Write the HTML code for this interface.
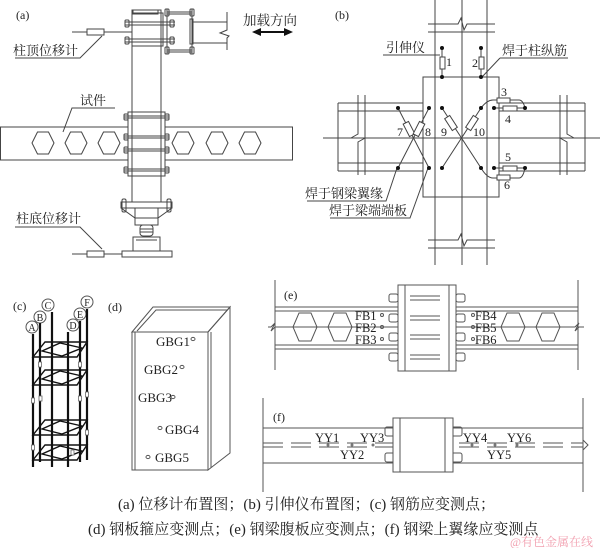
<!DOCTYPE html>
<html><head><meta charset="utf-8"><style>
html,body{margin:0;padding:0;background:#fff}
svg{display:block}
text{font-family:"Liberation Serif","Noto Serif CJK SC","Noto Sans CJK SC",serif;fill:#222}
.cj{font-family:"Liberation Serif","Noto Serif CJK SC","Noto Sans CJK SC",serif}
</style></head><body>
<svg width="600" height="548" viewBox="0 0 600 548" xmlns="http://www.w3.org/2000/svg">
<g fill="none" stroke="#444" stroke-width="1">
<rect x="0.5" y="127" width="292" height="33"/>
<g>
<polygon points="32,143 37.5,132 48.5,132 54,143 48.5,154 37.5,154"/>
<polygon points="65,143 70.5,132 81.5,132 87,143 81.5,154 70.5,154"/>
<polygon points="98,143 103.5,132 114.5,132 120,143 114.5,154 103.5,154"/>
<polygon points="172,143 177.5,132 188.5,132 194,143 188.5,154 177.5,154"/>
<polygon points="206,143 211.5,132 222.5,132 228,143 222.5,154 211.5,154"/>
<polygon points="239,143 244.5,132 255.5,132 261,143 255.5,154 244.5,154"/>
</g>
<rect x="132" y="10" width="29" height="192" fill="#fff"/>
<rect x="128" y="112" width="37" height="64" fill="#fff"/>
<line x1="132" y1="112" x2="132" y2="176"/><line x1="161" y1="112" x2="161" y2="176"/>
<g>
<path d="M124 116h45M124 118h45M124 136h45M124 138h45M124 149h45M124 151h45M124 169h45M124 171h45"/>
<rect x="124" y="114" width="4" height="6" rx="1"/><rect x="165" y="114" width="4" height="6" rx="1"/>
<rect x="124" y="134" width="4" height="6" rx="1"/><rect x="165" y="134" width="4" height="6" rx="1"/>
<rect x="124" y="147" width="4" height="6" rx="1"/><rect x="165" y="147" width="4" height="6" rx="1"/>
<rect x="124" y="167" width="4" height="6" rx="1"/><rect x="165" y="167" width="4" height="6" rx="1"/>
</g>
<rect x="133" y="10" width="25" height="4"/>
<rect x="132" y="13" width="31" height="33"/>
<path d="M125 22h50M125 25h50M125 39h50M125 42h50"/>
<rect x="125" y="20" width="4" height="7" rx="1"/><rect x="125" y="37" width="4" height="7" rx="1"/>
<rect x="170" y="20" width="4" height="7" rx="1"/><rect x="170" y="37" width="4" height="7" rx="1"/>
<path d="M167 12h25M167 14h25M167 50h25M167 52h25"/>
<rect x="165" y="9" width="4" height="7" rx="1"/><rect x="190" y="9" width="4" height="7" rx="1"/>
<rect x="165" y="47" width="4" height="7" rx="1"/><rect x="190" y="47" width="4" height="7" rx="1"/>
<line x1="167" y1="9" x2="167" y2="54"/><line x1="192" y1="9" x2="192" y2="54"/>
<rect x="190" y="19" width="3" height="25"/>
<path d="M193 22h34M193 43h34M227 12v18l-7 3 9 3-2 2v12"/>
<rect x="121" y="202" width="51" height="6"/>
<rect x="122" y="199" width="4" height="13" rx="1.5"/><rect x="167" y="199" width="4" height="13" rx="1.5"/>
<path d="M121 208L135 218H158L172 208"/>
<rect x="135" y="208" width="23" height="17"/>
<rect x="140" y="225" width="13" height="11" rx="3"/>
<path d="M140 229h13M140 232h13"/>
<rect x="133" y="237" width="27" height="14"/>
<path d="M136 240h21"/>
<rect x="122" y="251" width="50" height="6"/>
<path d="M72 32h60"/><rect x="87" y="29" width="17" height="6" fill="#fff"/>
<path d="M102 36L80 58H15"/>
<path d="M72 254h50"/><rect x="87" y="251" width="17" height="6" fill="#fff"/>
<path d="M102 249L80 227H15"/>
<path d="M115 108H72L63 132"/>
</g>
<g stroke="#111" stroke-width="2" fill="#111">
<line x1="258" y1="32" x2="287" y2="32"/>
<polygon points="252,32 261,28 261,36" stroke="none"/><polygon points="293,32 284,28 284,36" stroke="none"/>
</g>
<text x="16" y="19" font-size="12">(a)</text>
<text x="243" y="25" font-size="13.5" class="cj">加载方向</text>
<text x="13" y="55" font-size="13" class="cj">柱顶位移计</text>
<text x="80" y="105" font-size="13" class="cj">试件</text>
<text x="16" y="223" font-size="13" class="cj">柱底位移计</text>

<g fill="none" stroke="#444" stroke-width="1">
<line x1="323" y1="138" x2="600" y2="138"/>
<path d="M338 103H423M338 111H423M338 163H423M338 171H423M338 103V171"/>
<path d="M499 103H585M499 111H585M499 163H585M499 171H585M585 103V171"/>
<path d="M358 95V134l-7 4 14 0-7 4V175M365 95V175"/>
<path d="M560 95V175M567 95V134l7 4-14 0 7 4V175"/>
<rect x="423" y="77" width="76" height="120" fill="#fff"/>
<line x1="435" y1="0" x2="435" y2="265"/><line x1="487" y1="0" x2="487" y2="265"/>
<line x1="462" y1="0" x2="462" y2="265"/>
<path d="M428 24H458l3-6 3 12 3-6H495M428 32H495"/>
<path d="M428 240H458l3-6 3 12 3-6H495M428 248H495"/>
<line x1="323" y1="138" x2="600" y2="138"/>
<path d="M398 108L429 168M429 108L398 168M442 108L481 168M481 108L442 168"/>
<path d="M442 48V77M481 48V77"/>
<rect x="440" y="57" width="5" height="12" fill="#fff"/><rect x="479" y="57" width="5" height="12" fill="#fff"/>
<rect x="-3" y="-7" width="6" height="14" fill="#fff" transform="translate(409,129) rotate(-27)"/>
<rect x="-3" y="-7" width="6" height="14" fill="#fff" transform="translate(419,129) rotate(27)"/>
<rect x="-3" y="-7" width="6" height="14" fill="#fff" transform="translate(451,123) rotate(-33)"/>
<rect x="-3" y="-7" width="6" height="14" fill="#fff" transform="translate(472,123) rotate(33)"/>
<path d="M481 108Q487 100 493 100H519Q523 100 525 108M494 108H525M481 168Q487 178 493 178H519Q523 178 525 168M494 168H525"/>
<rect x="497" y="98" width="13" height="5" fill="#fff"/><rect x="503" y="106" width="14" height="5" fill="#fff"/>
<rect x="503" y="166" width="14" height="5" fill="#fff"/><rect x="497" y="175" width="13" height="5" fill="#fff"/>
<path d="M383 55H440M500 58H568M500 58L482 77"/>
<path d="M307 201H386L397 168M330 218H410L428 168"/>
</g>
<g fill="#111">
<circle cx="442" cy="48" r="2"/><circle cx="442" cy="77" r="2"/><circle cx="481" cy="48" r="2"/><circle cx="481" cy="77" r="2"/>
<circle cx="398" cy="108" r="2"/><circle cx="429" cy="108" r="2"/><circle cx="442" cy="108" r="2"/><circle cx="481" cy="108" r="2"/><circle cx="494" cy="108" r="2"/><circle cx="525" cy="108" r="2"/>
<circle cx="398" cy="168" r="2"/><circle cx="429" cy="168" r="2"/><circle cx="442" cy="168" r="2"/><circle cx="481" cy="168" r="2"/><circle cx="494" cy="168" r="2"/><circle cx="525" cy="168" r="2"/>
</g>
<text x="335" y="19" font-size="12">(b)</text>
<text x="386" y="52" font-size="13" class="cj">引伸仪</text>
<text x="502" y="55" font-size="13" class="cj">焊于柱纵筋</text>
<text x="305" y="198" font-size="13" class="cj">焊于钢梁翼缘</text>
<text x="329" y="215" font-size="13" class="cj">焊于梁端端板</text>
<g font-size="12"><text x="446" y="66">1</text><text x="472" y="67">2</text>
<text x="501" y="96">3</text><text x="505" y="123">4</text><text x="505" y="161">5</text><text x="504" y="189">6</text>
<text x="397" y="136">7</text><text x="425" y="136">8</text><text x="441" y="136">9</text><text x="473" y="136">10</text></g>

<g fill="none" stroke="#555" stroke-width="1">
<circle cx="32" cy="327" r="6"/><circle cx="40" cy="317" r="6"/><circle cx="48" cy="305" r="6"/>
<circle cx="73" cy="325" r="6"/><circle cx="80" cy="314" r="6"/><circle cx="87" cy="302" r="6"/>
</g>
<g stroke="#111" stroke-width="2.2">
<line x1="33" y1="334" x2="33" y2="467"/><line x1="40" y1="323" x2="40" y2="462"/><line x1="52" y1="312" x2="52" y2="467"/>
<line x1="68" y1="332" x2="68" y2="467"/><line x1="80" y1="321" x2="80" y2="462"/><line x1="87" y1="309" x2="87" y2="460"/>
</g>
<g fill="none" stroke="#111" stroke-width="1.4">
<polygon points="45,342 87,342 77,357 33,357"/><polygon points="42,351 60,343 82,348 62,356"/>
<polygon points="45,370 87,370 77,385 33,385"/><polygon points="42,379 60,371 82,376 62,384"/>
<polygon points="45,420 87,420 77,435 33,435"/><polygon points="42,429 60,421 82,426 62,434"/>
<polygon points="45,445 87,445 77,460 33,460"/><polygon points="42,454 60,446 82,451 62,459"/>
</g>
<g fill="#fff" stroke="#666" stroke-width="0.8">
<rect x="38.5" y="362" width="3" height="5"/><rect x="78.5" y="362" width="3" height="5"/>
<rect x="31.5" y="398" width="3" height="5"/><rect x="39" y="396" width="3" height="5"/><rect x="78.5" y="396" width="3" height="5"/><rect x="85.5" y="392" width="3" height="5"/>
<rect x="31.5" y="445" width="3" height="5"/><rect x="85.5" y="430" width="3" height="5"/><rect x="71" y="450" width="3" height="5"/>
</g>
<text x="13" y="310" font-size="12">(c)</text>
<g font-size="10" text-anchor="middle"><text x="32" y="331">A</text><text x="40" y="321">B</text><text x="48" y="309">C</text><text x="73" y="329">D</text><text x="80" y="318">E</text><text x="87" y="306">F</text></g>

<g fill="none" stroke="#555" stroke-width="1">
<rect x="132" y="332" width="76" height="138"/>
<path d="M135 332V470"/>
<polygon points="132,332 153,307 230,307 208,332"/>
<path d="M137 331L156 310H227"/>
<polygon points="208,332 230,307 230,453 208,470"/>
<path d="M211 332V468"/>
<ellipse cx="193" cy="339" rx="2" ry="1.6"/><ellipse cx="182" cy="367" rx="2" ry="1.6"/><ellipse cx="173" cy="397" rx="2" ry="1.6"/><ellipse cx="160" cy="428" rx="2" ry="1.6"/><ellipse cx="148" cy="457" rx="2" ry="1.6"/>
</g>
<text x="108" y="311" font-size="12">(d)</text>
<g font-size="13"><text x="156" y="346">GBG1</text><text x="144" y="374">GBG2</text><text x="138" y="402">GBG3</text><text x="165" y="434">GBG4</text><text x="155" y="462">GBG5</text></g>

<g fill="none" stroke="#555" stroke-width="1">
<path d="M275 280V370M578 280V370"/>
<path d="M275 307H578M275 311H578M275 345H578M275 349H578"/>
<path d="M268 327h3l4-4-4 8 4-4h300l4-4-4 8 4-4h5"/>
<g>
<polygon points="293,327 299,313 311,313 317,327 311,341 299,341"/>
<polygon points="328,327 334,313 346,313 352,327 346,341 334,341"/>
<polygon points="501,327 507,313 519,313 525,327 519,341 507,341"/>
<polygon points="536,327 542,313 554,313 560,327 554,341 542,341"/>
</g>
<rect x="398" y="285" width="58" height="86" fill="#fff"/>
<path d="M405 285V371M449 285V371"/>
<g>
<path d="M410 296h30M410 300h30M410 316h30M410 320h30M410 335h30M410 339h30M410 355h30M410 359h30"/>
<rect x="389" y="294" width="9" height="8" rx="2" fill="#fff"/><rect x="456" y="294" width="9" height="8" rx="2" fill="#fff"/>
<rect x="389" y="314" width="9" height="8" rx="2" fill="#fff"/><rect x="456" y="314" width="9" height="8" rx="2" fill="#fff"/>
<rect x="389" y="333" width="9" height="8" rx="2" fill="#fff"/><rect x="456" y="333" width="9" height="8" rx="2" fill="#fff"/>
<rect x="389" y="353" width="9" height="8" rx="2" fill="#fff"/><rect x="456" y="353" width="9" height="8" rx="2" fill="#fff"/>
</g>
<circle cx="382" cy="315" r="1.5"/><circle cx="382" cy="327" r="1.5"/><circle cx="382" cy="339" r="1.5"/>
<circle cx="473" cy="315" r="1.5"/><circle cx="473" cy="327" r="1.5"/><circle cx="473" cy="339" r="1.5"/>
</g>
<text x="284" y="299" font-size="12">(e)</text>
<g font-size="12.5"><text x="355" y="320">FB1</text><text x="355" y="332">FB2</text><text x="355" y="344">FB3</text>
<text x="475" y="320">FB4</text><text x="475" y="332">FB5</text><text x="475" y="344">FB6</text></g>

<g fill="none" stroke="#555" stroke-width="1">
<path d="M263 398V492M583 398V492"/>
<path d="M263 428H583M263 463H583"/>
<path d="M263 443H583M263 447H583" stroke-dasharray="20 8"/>
<path d="M583 440l5 5-5 5"/>
<rect x="385" y="427" width="77" height="9" rx="2"/><rect x="385" y="453" width="77" height="9" rx="2"/>
<rect x="393" y="418" width="60" height="54" fill="#fff"/>
<path d="M400 418V472M445 418V472"/>
</g>
<g fill="#777"><circle cx="328" cy="445" r="1.5"/><circle cx="352" cy="445" r="1.5"/><circle cx="373" cy="445" r="1.5"/><circle cx="472" cy="445" r="1.5"/><circle cx="495" cy="445" r="1.5"/><circle cx="517" cy="445" r="1.5"/></g>
<text x="273" y="421" font-size="12">(f)</text>
<g font-size="12.5"><text x="315" y="442">YY1</text><text x="340" y="459">YY2</text><text x="360" y="442">YY3</text>
<text x="463" y="442">YY4</text><text x="487" y="459">YY5</text><text x="507" y="442">YY6</text></g>

<text x="118" y="509" font-size="15" class="cj">(a) 位移计布置图；(b) 引伸仪布置图；(c) 钢筋应变测点；</text>
<text x="88" y="534" font-size="15" class="cj">(d) 钢板箍应变测点；(e) 钢梁腹板应变测点；(f) 钢梁上翼缘应变测点</text>
<text x="510" y="546" font-size="12" style="fill:#f2a0b0" class="cj">@有色金属在线</text>
</svg>
</body></html>
